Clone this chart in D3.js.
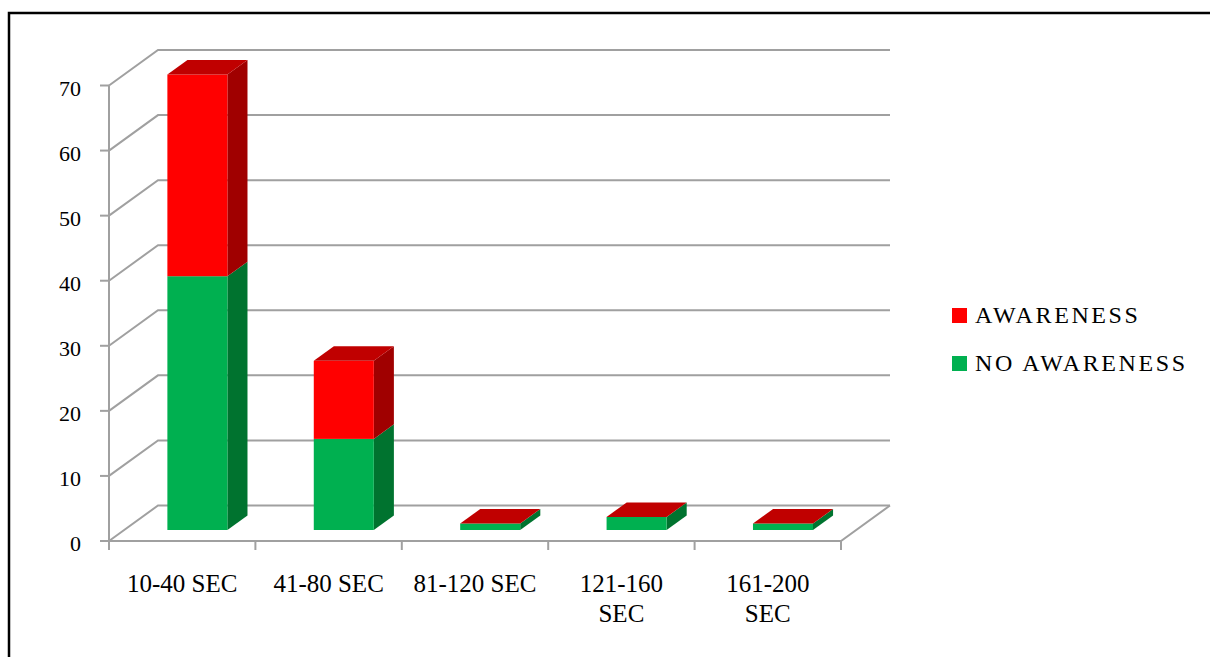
<!DOCTYPE html>
<html>
<head>
<meta charset="utf-8">
<script src="https://cdn.jsdelivr.net/npm/d3@7"></script>
<style>
  html, body { margin: 0; padding: 0; background: #fff; }
  svg { display: block; }
  text { font-family: "Liberation Serif", "DejaVu Serif", serif; fill: #000; }
</style>
</head>
<body>
<svg id="chart" width="1210" height="657"></svg>
<script>
// Response time groups and counts per awareness group
const categories = ["10-40 SEC", "41-80 SEC", "81-120 SEC", "121-160 SEC", "161-200 SEC"];
const categoryLines = [["10-40 SEC"], ["41-80 SEC"], ["81-120 SEC"], ["121-160", "SEC"], ["161-200", "SEC"]];
const noAwareness = [39, 14, 1, 2, 1];
const awareness = [31, 12, 0, 0, 0];
const seriesNames = ["NO AWARENESS", "AWARENESS"];
const yTicks = [0, 10, 20, 30, 40, 50, 60, 70];

// Face shades for each series: front, side, top
const shades = {
  "NO AWARENESS": { front: "#00B050", side: "#00732F", top: "#008C3C" },
  "AWARENESS":    { front: "#FF0000", side: "#A00000", top: "#C00000" }
};

const svg = d3.select("#chart");

// Outer frame
svg.append("rect")
  .attr("x", 9).attr("y", 13).attr("width", 1300).attr("height", 700)
  .attr("fill", "none").attr("stroke", "#000").attr("stroke-width", 2.5);

// Oblique projection: depth fraction d shifts a point right and up
const DX = 49, DY = 35.5;
const x = d3.scaleBand().domain(categories).range([109, 841]).padding(0);
const y = d3.scaleLinear().domain([0, 70]).range([541, 85.5]);
const P = (px, v, d) => [px + d * DX, y(v) - d * DY];

const gridColor = "#A0A0A0";
const grid = svg.append("g").attr("stroke", gridColor).attr("stroke-width", 2).attr("fill", "none");

// Back wall and side wall gridlines
yTicks.forEach(t => {
  const a = P(109, t, 0), b = P(109, t, 1), c = P(x.range()[1], t, 1);
  grid.append("path").attr("d", d3.line()([a, b, c]));
});

// Floor outline (front and right edges)
grid.append("path").attr("d", d3.line()([P(109, 0, 0), P(841, 0, 0), P(841, 0, 1)]));

// Front vertical axis
grid.append("line").attr("x1", 109).attr("x2", 109).attr("y1", y(70)).attr("y2", y(0) + 9);

// Value axis tick marks
yTicks.forEach(t => {
  grid.append("line").attr("x1", 100).attr("x2", 109).attr("y1", y(t)).attr("y2", y(t));
});

// Category tick marks at band boundaries
const bounds = categories.map(c => x(c)).concat([x.range()[1]]);
bounds.forEach(bx => {
  grid.append("line").attr("x1", bx).attr("x2", bx).attr("y1", y(0)).attr("y2", y(0) + 9);
});

// Value axis labels
svg.append("g").selectAll("text").data(yTicks).join("text")
  .attr("x", 81).attr("y", d => y(d) + 10)
  .attr("text-anchor", "end").attr("font-size", 22)
  .text(d => d);

// Category labels
const catG = svg.append("g");
categories.forEach((c, i) => {
  const cx = x(c) + x.bandwidth() / 2;
  const t = catG.append("text").attr("text-anchor", "middle").attr("font-size", 25);
  categoryLines[i].forEach((line, j) => {
    t.append("tspan").attr("x", cx).attr("y", 592 + j * 30).text(line);
  });
});

// Stacked 3D bars
const table = categories.map((c, i) => ({ cat: c, "NO AWARENESS": noAwareness[i], "AWARENESS": awareness[i] }));
const stacked = d3.stack().keys(seriesNames)(table);

const barW = x.bandwidth() * 0.41;
const d0 = 0.31, d1 = 0.72;
const bars = svg.append("g");

categories.forEach((c, i) => {
  const left = x(c) + x.bandwidth() / 2 - barW / 2;
  const right = left + barW;
  stacked.forEach((layer, k) => {
    const [v0, v1] = layer[i];
    const col = shades[layer.key];
    // right side face
    bars.append("path")
      .attr("d", d3.line()([P(right, v0, d0), P(right, v0, d1), P(right, v1, d1), P(right, v1, d0)]) + "Z")
      .attr("fill", col.side);
    // front face
    const f0 = P(left, v1, d0), f1 = P(right, v0, d0);
    bars.append("rect")
      .attr("x", f0[0]).attr("y", f0[1])
      .attr("width", f1[0] - f0[0]).attr("height", f1[1] - f0[1])
      .attr("fill", col.front);
    // top face on the uppermost segment
    if (k === stacked.length - 1) {
      bars.append("path")
        .attr("d", d3.line()([P(left, v1, d0), P(right, v1, d0), P(right, v1, d1), P(left, v1, d1)]) + "Z")
        .attr("fill", col.top);
    }
  });
});

// Legend
const legendItems = ["AWARENESS", "NO AWARENESS"];
const lg = svg.append("g");
legendItems.forEach((name, i) => {
  const ly = 308 + i * 48;
  lg.append("rect").attr("x", 952).attr("y", ly).attr("width", 15).attr("height", 15)
    .attr("fill", shades[name].front);
  lg.append("text").attr("x", 975).attr("y", ly + 15)
    .attr("font-size", 24).attr("letter-spacing", 2.6)
    .text(name);
});
</script>
</body>
</html>
